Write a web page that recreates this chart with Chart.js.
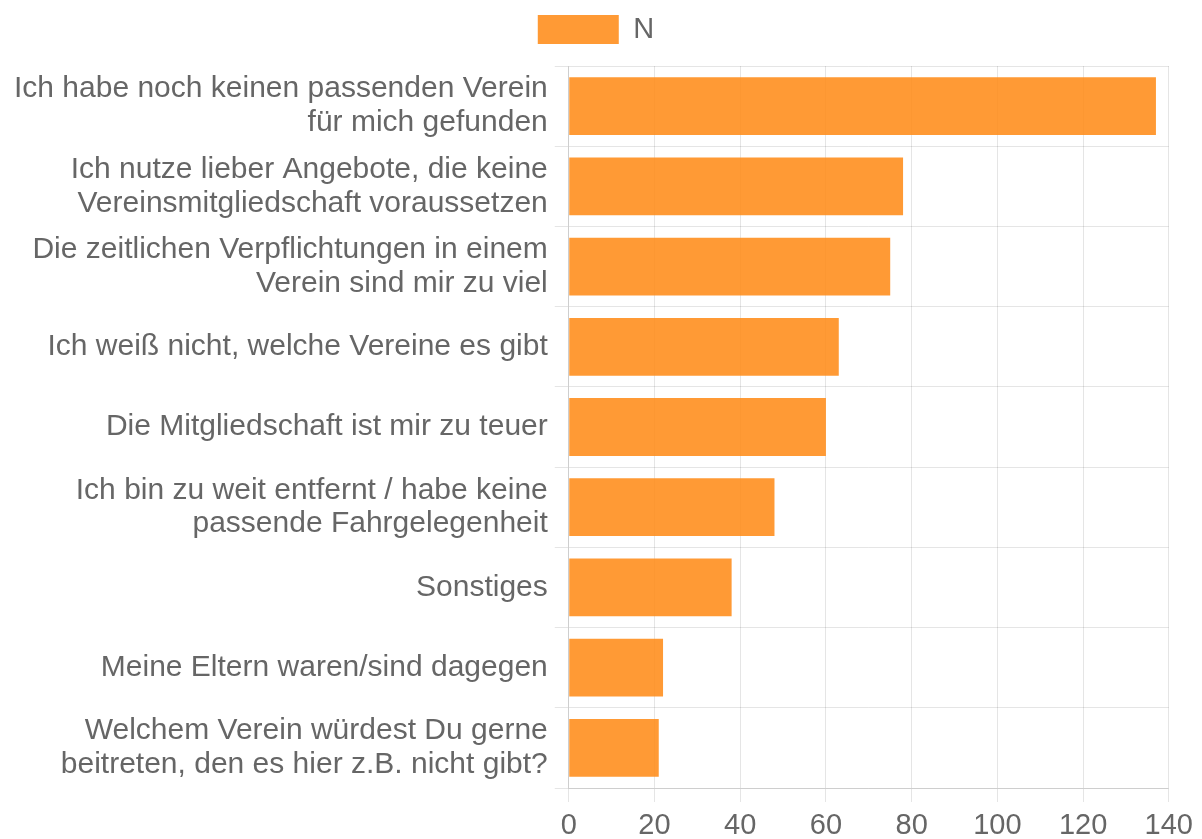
<!DOCTYPE html>
<html>
<head>
<meta charset="utf-8">
<script src="https://cdn.jsdelivr.net/npm/chart.js@4/dist/chart.umd.min.js"></script>
<style>
html,body{margin:0;padding:0;background:#fff;}
#wrap{width:1202px;height:839px;}
</style>
</head>
<body>
<div id="wrap"><canvas id="c" width="1202" height="839"></canvas></div>
<script>
const categories = [
  ["Ich habe noch keinen passenden Verein", "für mich gefunden"],
  ["Ich nutze lieber Angebote, die keine", "Vereinsmitgliedschaft voraussetzen"],
  ["Die zeitlichen Verpflichtungen in einem", "Verein sind mir zu viel"],
  "Ich weiß nicht, welche Vereine es gibt",
  "Die Mitgliedschaft ist mir zu teuer",
  ["Ich bin zu weit entfernt / habe keine", "passende Fahrgelegenheit"],
  "Sonstiges",
  "Meine Eltern waren/sind dagegen",
  ["Welchem Verein würdest Du gerne", "beitreten, den es hier z.B. nicht gibt?"]
];
const seriesName = "N";
const values = [137, 78, 75, 63, 60, 48, 38, 22, 21];
const xTicks = [0, 20, 40, 60, 80, 100, 120, 140];

Chart.defaults.font.family = "'Liberation Sans', Arial, sans-serif";
Chart.defaults.color = "#666";

const legendHeightPlugin = {
  id: 'legendHeight',
  beforeLayout(chart) {
    const lg = chart.legend;
    if (lg && !lg._patched) {
      const fit = lg.fit;
      lg.fit = function () { fit.call(this); this.height = 61; };
      lg._patched = true;
    }
  }
};

new Chart(document.getElementById('c'), {
  type: 'bar',
  data: {
    labels: categories,
    datasets: [{
      label: seriesName,
      data: values,
      backgroundColor: 'rgba(255,140,25,0.88)',
      borderWidth: 0
    }]
  },
  plugins: [legendHeightPlugin],
  options: {
    indexAxis: 'y',
    responsive: false,
    animation: false,
    devicePixelRatio: 1,
    layout: { padding: { top: 5, right: 17, left: 7, bottom: 0 } },
    plugins: {
      legend: {
        display: true,
        labels: { boxWidth: 81, boxHeight: 29, font: { size: 29 }, padding: 10 }
      },
      tooltip: { enabled: false }
    },
    scales: {
      x: {
        min: xTicks[0],
        max: xTicks[xTicks.length - 1],
        afterBuildTicks: (axis) => { axis.ticks = xTicks.map(v => ({ value: v })); },
        afterFit: (scale) => { scale.height = 51; },
        ticks: { font: { size: 29, lineHeight: 1.0 }, padding: 9, maxRotation: 0 },
        grid: { color: 'rgba(0,0,0,0.1)', tickLength: 14 }
      },
      y: {
        ticks: { font: { size: 30, lineHeight: 1.13 }, padding: 7 },
        grid: { color: 'rgba(0,0,0,0.1)', tickLength: 14 }
      }
    }
  }
});
</script>
</body>
</html>
